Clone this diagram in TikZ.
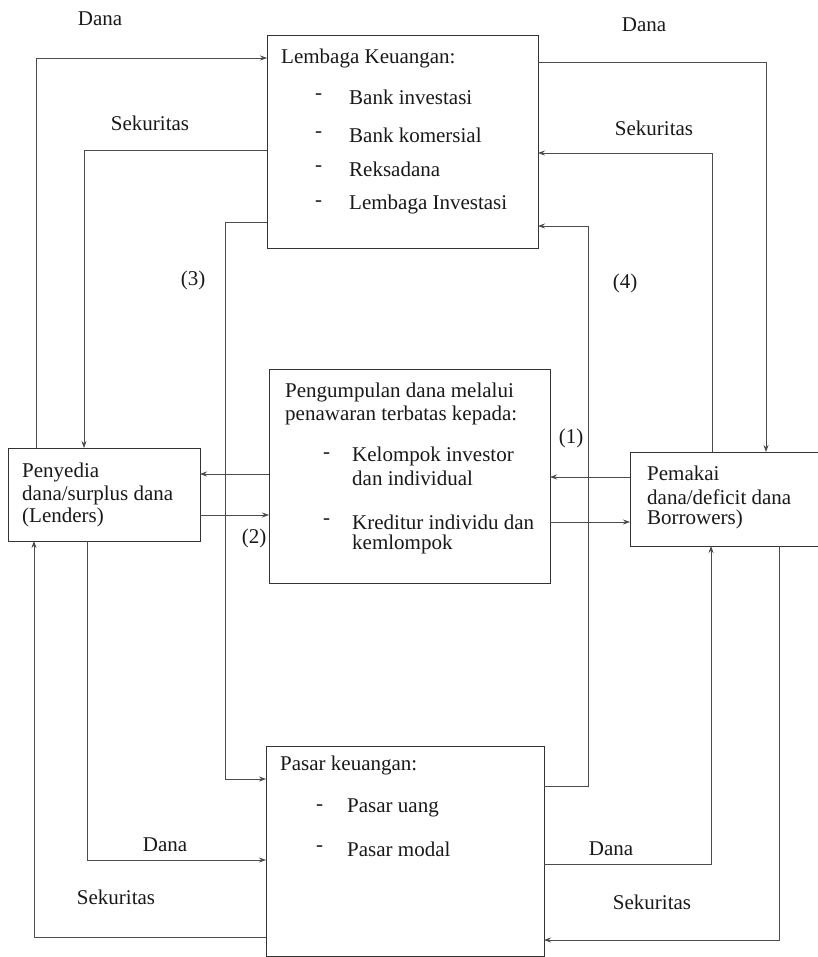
\documentclass[tikz,border=0pt]{standalone}
\usepackage{fontspec}
\setmainfont{Liberation Serif}
\usetikzlibrary{arrows.meta}
\begin{document}
\begin{tikzpicture}[x=1pt,y=-1pt,
 box/.style={draw=black!80, line width=0.8pt, anchor=north west, inner sep=0pt, outer sep=0pt},
 conn/.style={draw=black!70, line width=0.7pt},
 arr/.style={conn, -{Stealth[length=7pt,width=5pt]}},
 txt/.style={anchor=west, inner sep=0pt, font=\fontsize{21}{25}\selectfont, text=black!90},
 lbl/.style={inner sep=0pt, font=\fontsize{21}{25}\selectfont, text=black!90}]
\useasboundingbox[fill=white] (0,0) rectangle (817,957);

% boxes
\node[box, minimum width=271pt, minimum height=213pt] (L) at (267,35) {};
\node[box, minimum width=281pt, minimum height=214pt] (M) at (269,369) {};
\node[box, minimum width=192pt, minimum height=93pt] (P) at (8,448) {};
\node[box, minimum width=200pt, minimum height=94pt] (B) at (630,452) {};
\node[box, minimum width=278pt, minimum height=210pt] (K) at (266,746) {};

% box texts
\node[txt] (l0) at (281,58) {Lembaga Keuangan:};
\node[txt] (l1d) at (315,97) {-};
\node[txt] (l1) at (349,97) {Bank investasi};
\node[txt] (l2d) at (315,135) {-};
\node[txt] (l2) at (349,135) {Bank komersial};
\node[txt] (l3d) at (315,169) {-};
\node[txt] (l3) at (349,169) {Reksadana};
\node[txt] (l4d) at (315,204) {-};
\node[txt] (l4) at (349,204) {Lembaga Investasi};

\node[txt] (m0) at (285,392) {Pengumpulan dana melalui};
\node[txt] (m0b) at (285,415) {penawaran terbatas kepada:};
\node[txt] (m1d) at (323,456) {-};
\node[txt] (m1) at (352,456) {Kelompok investor};
\node[txt] (m1b) at (352,478) {dan individual};
\node[txt] (m2d) at (323,522) {-};
\node[txt] (m2) at (352,522) {Kreditur individu dan};
\node[txt] (m2b) at (352,544) {kemlompok};

\node[txt] (p0) at (22,472) {Penyedia};
\node[txt] (p1) at (22,495) {dana/surplus dana};
\node[txt] (p2) at (22,517) {(Lenders)};

\node[txt] (b0) at (647,473) {Pemakai};
\node[txt] (b1) at (647,497) {dana/deficit dana};
\node[txt] (b2) at (647,519) {Borrowers)};

\node[txt] (k0) at (280,765) {Pasar keuangan:};
\node[txt] (k1d) at (316,808) {-};
\node[txt] (k1) at (347,808) {Pasar uang};
\node[txt] (k2d) at (316,849) {-};
\node[txt] (k2) at (347,849) {Pasar modal};

% connectors top
\draw[arr] ([xshift=28pt]P.north west) |- ([yshift=-23pt]L.north west);
\draw[arr] ([yshift=-115pt]L.north west) -| ([xshift=76pt]P.north west);
\draw[arr] ([yshift=-187pt]L.north west) -| ([xshift=-41pt,yshift=-33pt]K.north west) -- ([yshift=-33pt]K.north west);
\draw[arr] ([yshift=-27pt]L.north east) -| ([xshift=136pt]B.north west);
\draw[arr] ([xshift=82pt]B.north west) |- ([yshift=-118pt]L.north east);
\draw[arr] ([yshift=-40pt]K.north east) -| ([xshift=50pt,yshift=-191pt]L.north east) -- ([yshift=-191pt]L.north east);

% middle connectors
\coordinate (cm1) at ([yshift=-105pt]M.north west);
\draw[arr] (cm1) -- (cm1 -| P.east);
\coordinate (cp1) at ([yshift=-67pt]P.north east);
\draw[arr] (cp1) -- (cp1 -| M.west);
\coordinate (cb1) at ([yshift=-25pt]B.north west);
\draw[arr] (cb1) -- (cb1 -| M.east);
\coordinate (cm2) at ([yshift=-153pt]M.north east);
\draw[arr] (cm2) -- (cm2 -| B.west);

% bottom connectors
\draw[arr] ([xshift=79pt]P.south west) |- ([yshift=-114pt]K.north west);
\draw[arr] ([yshift=-191pt]K.north west) -| ([xshift=26pt]P.south west);
\draw[arr] ([yshift=-118pt]K.north east) -| ([xshift=81pt]B.south west);
\draw[arr] ([xshift=149pt]B.south west) |- ([yshift=-194pt]K.north east);

% labels
\node[lbl] (t1) at (100,19) {Dana};
\node[lbl] (t2) at (644,25) {Dana};
\node[lbl] (t3) at (150,123) {Sekuritas};
\node[lbl] (t4) at (654,128) {Sekuritas};
\node[lbl] (t5) at (193,280) {(3)};
\node[lbl] (t6) at (625,283) {(4)};
\node[lbl] (t7) at (571,438) {(1)};
\node[lbl] (t8) at (254,538) {(2)};
\node[lbl] (t9) at (165,845) {Dana};
\node[lbl] (t10) at (116,897) {Sekuritas};
\node[lbl] (t11) at (611,849) {Dana};
\node[lbl] (t12) at (652,902) {Sekuritas};
\end{tikzpicture}
\end{document}
